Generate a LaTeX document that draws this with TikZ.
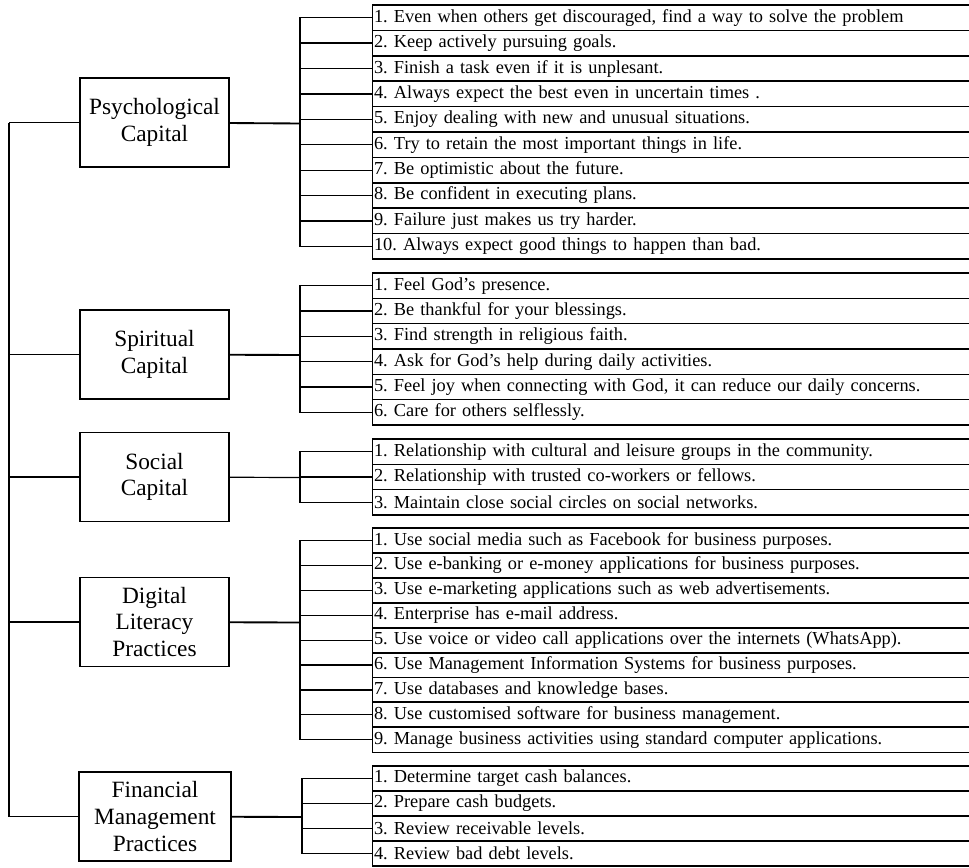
\documentclass[tikz,border=0pt]{standalone}
\usepackage{fontspec}
\setmainfont{Liberation Serif}

\tikzset{
  capbox/.style={draw, line width=1.2pt, minimum width=112pt, minimum height=67pt,
    align=center, inner sep=2pt, font=\fontsize{17.5}{20}\selectfont},
  item/.style={draw, line width=1.1pt, anchor=west, minimum height=19pt,
    text width=452pt, inner xsep=1pt, inner ysep=0pt, align=left,
    font=\fontsize{13.75}{15}\selectfont\frenchspacing},
  link/.style={line width=0.9pt},
}

\begin{document}
\begin{tikzpicture}[x=0.75pt, y=-0.75pt]
        \useasboundingbox (0,0) rectangle (969,867);

        % capitals and practices
        \node[capbox] (PC) at (154.5, 122.5) {Psychological\\Capital};
        \node[capbox] (SC) at (154.5, 354.5) {Spiritual\\Capital};
        \node[capbox] (SoC) at (154.5, 477) {Social\\Capital};
        \node[capbox] (DLP) at (154.5, 622) {Digital\\Literacy\\Practices};
        \node[capbox, minimum width=114pt] (FMP) at (155, 816.5) {Financial\\Management\\Practices};

        \coordinate (PCj) at (300, 123.5);
        \coordinate (SCj) at (300, 355);
        \coordinate (SoCj) at (300, 477.5);
        \coordinate (DLPj) at (300, 622.5);
        \coordinate (FMPj) at (302, 817);
        \coordinate (T) at (9, 122.5);

        % items
        \node[item] (PC1) at (372, 17.7) {1. Even when others get discouraged, find a way to solve the problem};
        \node[item] (PC2) at (372, 43.1) {2. Keep actively pursuing goals.};
        \node[item] (PC3) at (372, 68.5) {3. Finish a task even if it is unplesant.};
        \node[item] (PC4) at (372, 93.9) {4. Always expect the best even in uncertain times .};
        \node[item] (PC5) at (372, 119.3) {5. Enjoy dealing with new and unusual situations.};
        \node[item] (PC6) at (372, 144.7) {6. Try to retain the most important things in life.};
        \node[item] (PC7) at (372, 170.1) {7. Be optimistic about the future.};
        \node[item] (PC8) at (372, 195.5) {8. Be confident in executing plans.};
        \node[item] (PC9) at (372, 220.9) {9. Failure just makes us try harder.};
        \node[item] (PC10) at (372, 246.3) {10. Always expect good things to happen than bad.};

        \node[item] (SC1) at (372, 285.7) {1. Feel God's presence.};
        \node[item] (SC2) at (372, 311) {2. Be thankful for your blessings.};
        \node[item] (SC3) at (372, 336.3) {3. Find strength in religious faith.};
        \node[item] (SC4) at (372, 361.7) {4. Ask for God's help during daily activities.};
        \node[item] (SC5) at (372, 387) {5. Feel joy when connecting with God, it can reduce our daily concerns.};
        \node[item] (SC6) at (372, 412.3) {6. Care for others selflessly.};

        \node[item] (SoC1) at (372, 451.7) {1. Relationship with cultural and leisure groups in the community.};
        \node[item] (SoC2) at (372, 477) {2. Relationship with trusted co-workers or fellows.};
        \node[item] (SoC3) at (372, 502.3) {3. Maintain close social circles on social networks.};

        \node[item] (DLP1) at (372, 540.5) {1. Use social media such as Facebook for business purposes.};
        \node[item] (DLP2) at (372, 565.4) {2. Use e-banking or e-money applications for business purposes.};
        \node[item] (DLP3) at (372, 590.3) {3. Use e-marketing applications such as web advertisements.};
        \node[item] (DLP4) at (372, 615.2) {4. Enterprise has e-mail address.};
        \node[item] (DLP5) at (372, 640.1) {5. Use voice or video call applications over the internets (WhatsApp).};
        \node[item] (DLP6) at (372, 665) {6. Use Management Information Systems for business purposes.};
        \node[item] (DLP7) at (372, 689.9) {7. Use databases and knowledge bases.};
        \node[item] (DLP8) at (372, 714.8) {8. Use customised software for business management.};
        \node[item] (DLP9) at (372, 739.7) {9. Manage business activities using standard computer applications.};

        \node[item] (FMP1) at (372, 778.5) {1. Determine target cash balances.};
        \node[item] (FMP2) at (372, 803.5) {2. Prepare cash budgets.};
        \node[item] (FMP3) at (372, 828.5) {3. Review receivable levels.};
        \node[item] (FMP4) at (372, 853.5) {4. Review bad debt levels.};

        % trunk
        \draw[link] (PC.west) -- (T);
        \draw[link] (SC.west) -| (T);
        \draw[link] (SoC.west) -| (T);
        \draw[link] (DLP.west) -| (T);
        \draw[link] (FMP.west) -| (T);

        % capital to items
        \draw[link, line width=1.4pt] (PC) -- (PCj);
        \draw[link] (PC1.west) -| (PCj);
        \draw[link] (PC2.west) -| (PCj);
        \draw[link] (PC3.west) -| (PCj);
        \draw[link] (PC4.west) -| (PCj);
        \draw[link] (PC5.west) -| (PCj);
        \draw[link] (PC6.west) -| (PCj);
        \draw[link] (PC7.west) -| (PCj);
        \draw[link] (PC8.west) -| (PCj);
        \draw[link] (PC9.west) -| (PCj);
        \draw[link] (PC10.west) -| (PCj);

        \draw[link, line width=1.4pt] (SC) -- (SCj);
        \draw[link] (SC1.west) -| (SCj);
        \draw[link] (SC2.west) -| (SCj);
        \draw[link] (SC3.west) -| (SCj);
        \draw[link] (SC4.west) -| (SCj);
        \draw[link] (SC5.west) -| (SCj);
        \draw[link] (SC6.west) -| (SCj);

        \draw[link] (SoC) -- (SoCj);
        \draw[link] (SoC1.west) -| (SoCj);
        \draw[link] (SoC2.west) -| (SoCj);
        \draw[link] (SoC3.west) -| (SoCj);

        \draw[link, line width=1.4pt] (DLP) -- (DLPj);
        \draw[link] (DLP1.west) -| (DLPj);
        \draw[link] (DLP2.west) -| (DLPj);
        \draw[link] (DLP3.west) -| (DLPj);
        \draw[link] (DLP4.west) -| (DLPj);
        \draw[link] (DLP5.west) -| (DLPj);
        \draw[link] (DLP6.west) -| (DLPj);
        \draw[link] (DLP7.west) -| (DLPj);
        \draw[link] (DLP8.west) -| (DLPj);
        \draw[link] (DLP9.west) -| (DLPj);

        \draw[link, line width=1.4pt] (FMP) -- (FMPj);
        \draw[link] (FMP1.west) -| (FMPj);
        \draw[link] (FMP2.west) -| (FMPj);
        \draw[link] (FMP3.west) -| (FMPj);
        \draw[link] (FMP4.west) -| (FMPj);
\end{tikzpicture}
\end{document}
